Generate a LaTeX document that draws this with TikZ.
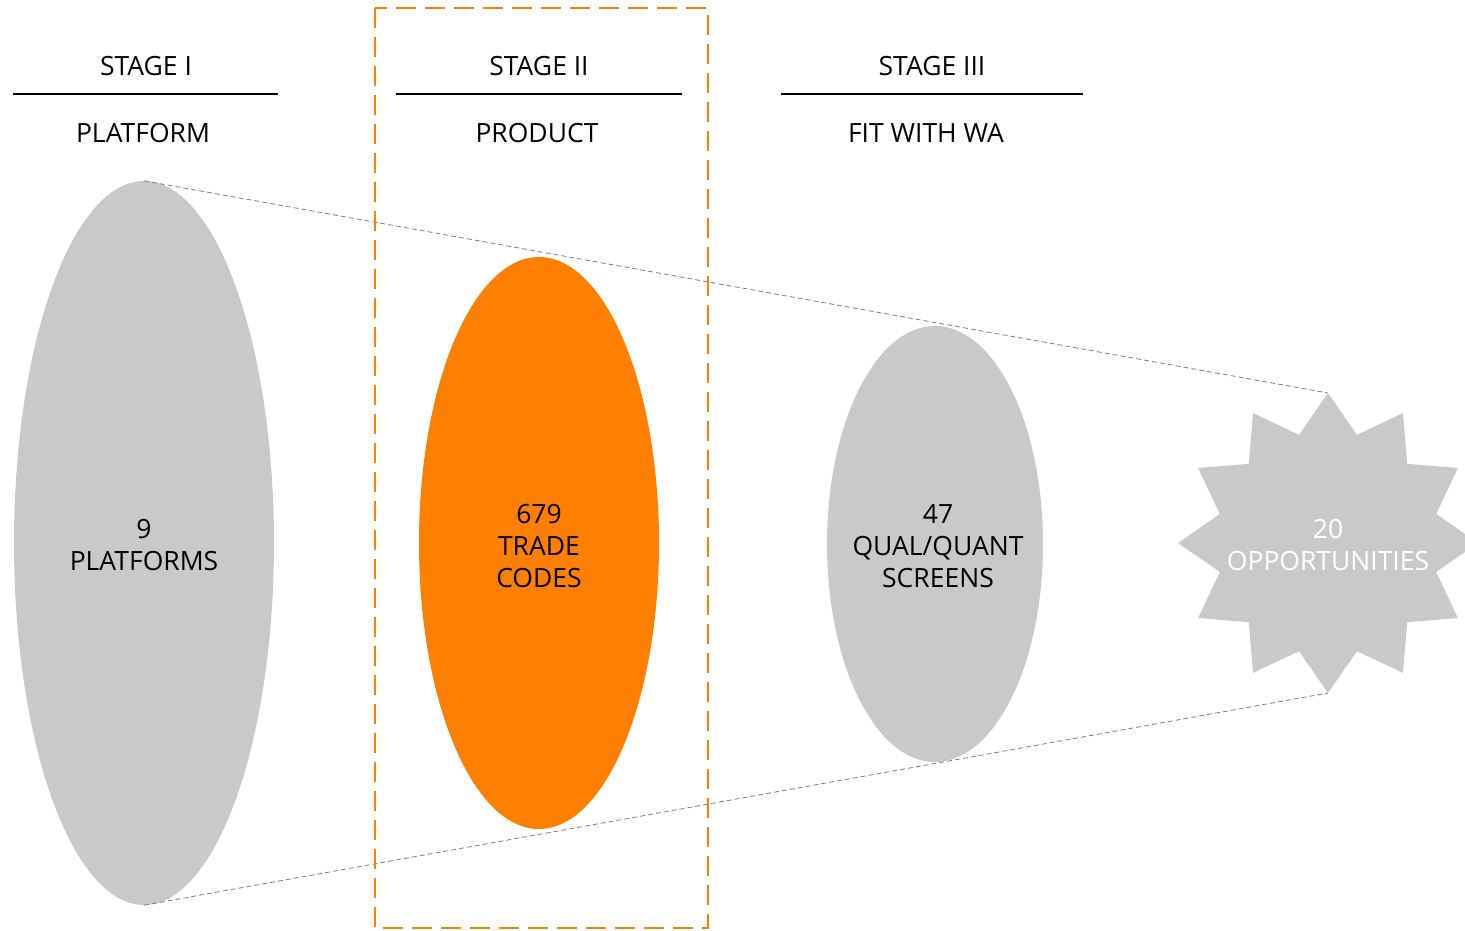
\documentclass[tikz,border=0pt]{standalone}
\usepackage{fontspec}
\setmainfont{Open Sans}
\usetikzlibrary{shapes.geometric}
\definecolor{shapegray}{HTML}{C9C9C9}
\definecolor{hiorange}{HTML}{FF7F00}
\definecolor{guidegray}{HTML}{7F7F7F}
\begin{document}
\begin{tikzpicture}[x=1pt,y=-1pt,
  lbl/.style={font=\fontsize{26.5}{32}\selectfont, inner sep=0pt, anchor=base},
  blob/.style={ellipse, inner sep=0pt},
  blobtext/.style={inner sep=0pt, align=center, font=\fontsize{26.5}{32}\selectfont, text=black},
  guide/.style={draw=guidegray, line width=0.8pt, dash pattern=on 5pt off 3pt},
  rule/.style={draw=black, line width=1.2pt},
  frame/.style={draw=hiorange, line width=2.5pt, dash pattern=on 20pt off 9pt}
]
\useasboundingbox (0,0) rectangle (1465,930);

% headers
\node[lbl] (h1) at (146,75) {STAGE I};
\node[lbl] (s1) at (143,142) {PLATFORM};
\draw[rule] (13,94) -- (278,94);
\node[lbl] (h2) at (539,75) {STAGE II};
\node[lbl] (s2) at (537,142) {PRODUCT};
\draw[rule] (396,94) -- (682,94);
\node[lbl] (h3) at (932,75) {STAGE III};
\node[lbl] (s3) at (926,142) {FIT WITH WA};
\draw[rule] (781,94) -- (1083,94);

% star
\coordinate (sc) at (1328,545);
\coordinate (startop) at (1328,393);
\coordinate (starbot) at (1328,693);
\fill[shapegray] (1328,393) \foreach \i in {0,...,11} {
  -- ({1328+112*sin(30*\i+15)},{543-112*cos(30*\i+15)})
  -- ({1328+150*sin(30*\i+30)},{543-150*cos(30*\i+30)})
} -- cycle;

% ellipses
\node[blob, fill=shapegray, minimum width=260pt, minimum height=724pt] (e1) at (144,543) {};
\node[blobtext] (t1) at (144,545) {9\\PLATFORMS};
\node[blob, fill=hiorange, minimum width=240pt, minimum height=572pt] (e2) at (539,543) {};
\node[blobtext] (t2) at (539,546) {679\\TRADE\\CODES};
\node[blob, fill=shapegray, minimum width=216pt, minimum height=436pt] (e3) at (935,544) {};
\node[blobtext] (t3) at (938,546) {47\\QUAL/QUANT\\SCREENS};
\node[blobtext, text=white] (st) at (sc) {20\\OPPORTUNITIES};

% guide lines
\draw[guide] (e1.north) -- (startop);
\draw[guide] (e1.south) -- (starbot);

% frame
\draw[frame] (375,8) rectangle (708,928);
\end{tikzpicture}
\end{document}
